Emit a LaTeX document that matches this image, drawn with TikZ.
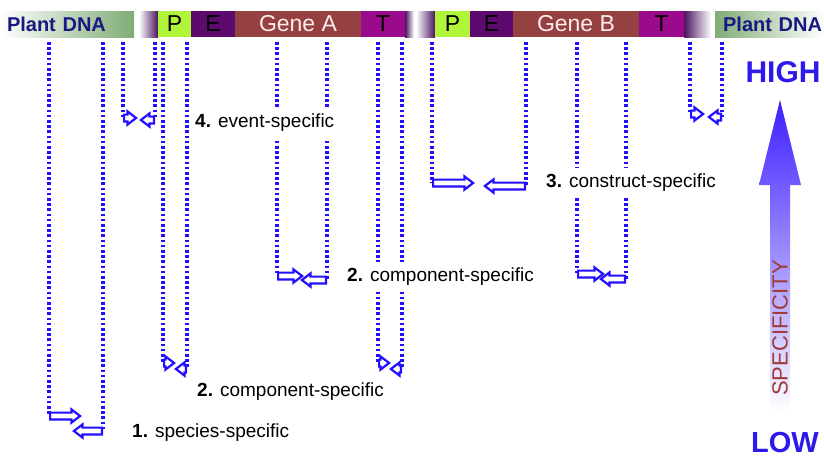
\documentclass[tikz,border=0pt]{standalone}
\usepackage{fontspec}
\setmainfont{Liberation Sans}
\usetikzlibrary{shapes.arrows}
\definecolor{dotblue}{RGB}{35,15,255}
\definecolor{hiblue}{RGB}{45,25,235}
\definecolor{navy}{RGB}{25,25,130}
\definecolor{dnagreen}{RGB}{128,172,118}
\definecolor{pgreen}{RGB}{176,245,58}
\definecolor{epurple}{RGB}{92,10,110}
\definecolor{genered}{RGB}{150,65,65}
\definecolor{tmag}{RGB}{156,10,140}
\definecolor{dkpurple}{RGB}{74,20,96}
\definecolor{specred}{RGB}{160,58,58}
\definecolor{bigblue}{RGB}{60,30,255}
\tikzset{
  seg/.style={anchor=north west, minimum height=26pt, inner sep=0pt, outer sep=0pt,
    font=\fontsize{23}{26}\selectfont},
  prim/.style={single arrow, draw=dotblue, fill=white, line width=2.2pt, inner sep=2.3pt,
    single arrow head extend=3.2pt, single arrow tip angle=75, minimum height=#1,
    anchor=tail},
  fwd/.style={prim=#1},
  rev/.style={prim=#1, shape border rotate=180},
  short/.style={inner xsep=1pt},
  dots/.style={draw=dotblue, line width=3.2pt, dash pattern=on 2.6pt off 2.6pt},
  lab/.style={anchor=west, fill=white, inner xsep=1pt, inner ysep=6pt,
    font=\fontsize{19}{22}\selectfont},
  dna/.style={font=\fontsize{20}{22}\selectfont\bfseries, text=navy}
}
\begin{document}
\begin{tikzpicture}[x=1pt, y=-1pt]
\useasboundingbox (0,0) rectangle (824,461);
% ---- construct bar ----
\node[seg, dna, left color=white, right color=dnagreen, minimum width=134pt,
  text width=120pt, inner xsep=7pt, align=left] (dnaL) at (0,11) {Plant DNA};
\node[seg, left color=white, right color=dkpurple, minimum width=19pt] (gL1) at (139,11) {};
\node[seg, fill=pgreen, minimum width=33pt] (P1) at (158,11) {P};
\node[seg, fill=epurple, minimum width=44pt] (E1) at (191,11) {E};
\node[seg, fill=genered, minimum width=126pt, text=white!92!red] (GA) at (235,11) {Gene A};
\node[seg, fill=tmag, minimum width=44pt] (T1) at (361,11) {T};
\node[seg, left color=dkpurple, right color=white, minimum width=9pt] (gR1) at (405,11) {};
\node[seg, left color=white, right color=dkpurple, minimum width=19pt] (gL2) at (416,11) {};
\node[seg, fill=pgreen, minimum width=35pt] (P2) at (435,11) {P};
\node[seg, fill=epurple, minimum width=43pt] (E2) at (470,11) {E};
\node[seg, fill=genered, minimum width=126pt, text=white!92!red] (GB) at (513,11) {Gene B};
\node[seg, fill=tmag, minimum width=45pt] (T2) at (639,11) {T};
\node[seg, left color=dkpurple, right color=white, minimum width=27pt] (gR2) at (684,11) {};
\node[seg, dna, left color=dnagreen, right color=white, minimum width=109pt,
  text width=105pt, inner xsep=2pt, align=right] (dnaR) at (715,11) {Plant DNA};
% ---- primer start points ----
\coordinate (d1f) at (49,42);  \coordinate (d1r) at (103,42);
\coordinate (d4f) at (123,42); \coordinate (d4r) at (155,42);
\coordinate (dPf) at (163,42); \coordinate (dPr) at (187,42);
\coordinate (dTf) at (378,42); \coordinate (dTr) at (402,42);
\coordinate (dAf) at (277,42); \coordinate (dAr) at (327,42);
\coordinate (d3f) at (432,42); \coordinate (d3r) at (526,42);
\coordinate (dBf) at (577,42); \coordinate (dBr) at (626,42);
\coordinate (dRf) at (690,42); \coordinate (dRr) at (722,42);
% ---- primer arrows ----
\node[fwd=30pt] (a1f) at (49,416) {};
\node[rev=28pt] (a1r) at (103,431) {};
\node[fwd=12pt, short] (a4f) at (123,118) {};
\node[rev=13pt, short] (a4r) at (155,120) {};
\node[fwd=10pt, short] (aPf) at (163,363) {};
\node[rev=10pt, short] (aPr) at (187,369) {};
\node[fwd=10pt, short] (aTf) at (378,363) {};
\node[rev=10pt, short] (aTr) at (402,369) {};
\node[fwd=24pt] (aAf) at (277,276) {};
\node[rev=24pt] (aAr) at (327,280) {};
\node[fwd=40pt] (a3f) at (432,183) {};
\node[rev=40pt] (a3r) at (526,186) {};
\node[fwd=25pt] (aBf) at (577,274) {};
\node[rev=24pt] (aBr) at (626,279) {};
\node[fwd=12pt, short] (aRf) at (690,114) {};
\node[rev=12pt, short] (aRr) at (722,117) {};
% ---- dotted connectors ----
\foreach \p in {1f,1r,4f,4r,Pf,Pr,Tf,Tr,Af,Ar,3f,3r,Bf,Br,Rf,Rr}
  \draw[dots] (d\p) -- (a\p.tail);
% ---- labels ----
\node[lab] (l1) at (131,433) {\textbf{1.} species-specific};
\node[lab] (l2a) at (196,392) {\textbf{2.} component-specific};
\node[lab] (l2b) at (346,277) {\textbf{2.} component-specific};
\node[lab] (l3) at (545,183) {\textbf{3.} construct-specific};
\node[lab] (l4) at (194,123) {\textbf{4.} event-specific};
% ---- specificity scale ----
\node[font=\fontsize{30}{34}\selectfont\bfseries, text=hiblue, inner sep=0pt] (high) at (783,72) {HIGH};
\node[font=\fontsize{29}{32}\selectfont\bfseries, text=hiblue, inner sep=0pt] (low) at (785,443) {LOW};
\shade[top color=bigblue, bottom color=white, middle color=bigblue!50!white]
  (770,412) -- (770,185) -- (759,185) -- (780,100) -- (801,185) -- (790,185) -- (790,412) -- cycle;
\node[rotate=90, font=\fontsize{22}{24}\selectfont, text=specred, inner sep=0pt] (spec) at (780,328) {SPECIFICITY};
\end{tikzpicture}
\end{document}
